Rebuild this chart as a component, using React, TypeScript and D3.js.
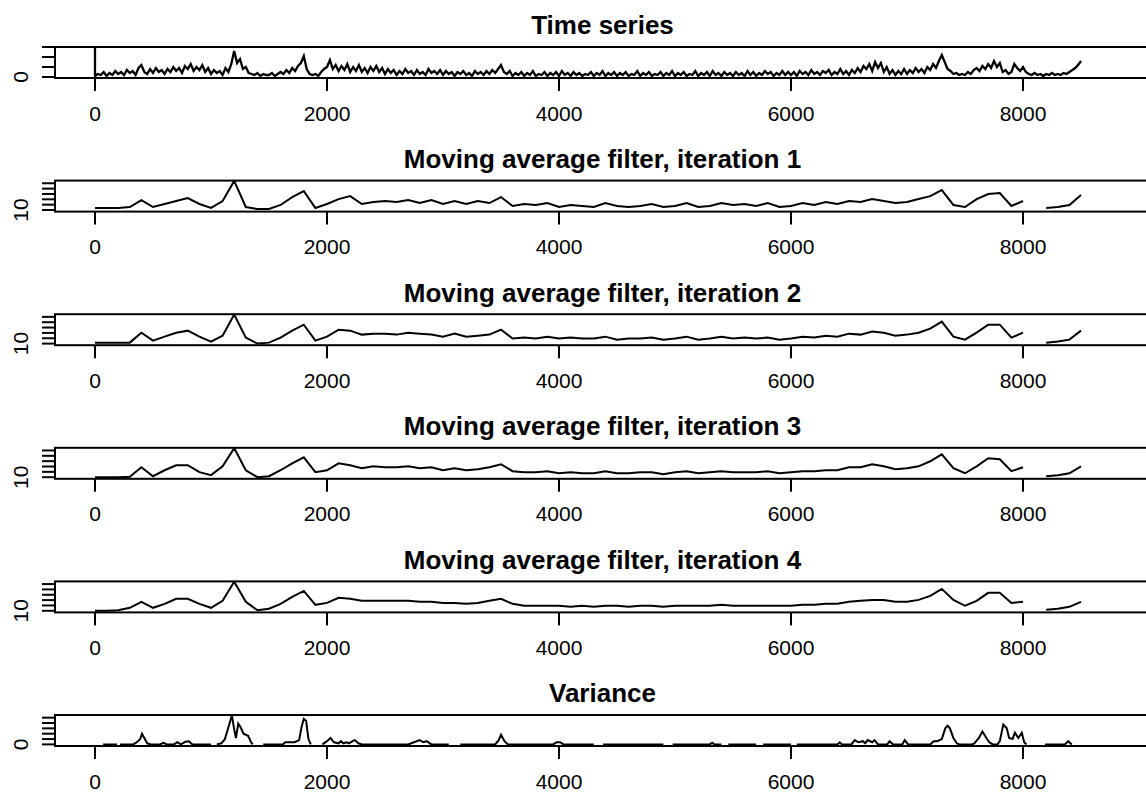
import React from "react";
import * as d3 from "d3";

const W = 1146;
const H = 798;

const panelTitles = [
  "Time series",
  "Moving average filter, iteration 1",
  "Moving average filter, iteration 2",
  "Moving average filter, iteration 3",
  "Moving average filter, iteration 4",
  "Variance",
];

const xTickValues = [0, 2000, 4000, 6000, 8000];
const tsTickValues = [0, 10, 20, 30];
const maTickValues = [10, 15, 20, 25, 30, 35];
const varTickValues = [0, 5, 10, 15, 20, 25];

// raw time series, sampled every 25 units (first point is the initial spike at 0)
const tsX = [0, ...d3.range(0, 8501, 25)];
const tsValues = [
  31,
  // 0-475
  1, 3, 2, 5, 1, 4, 2, 6, 3, 5, 2, 7, 4, 6, 2, 9, 12, 5, 3, 8,
  // 500-975
  4, 9, 5, 7, 3, 8, 5, 10, 6, 9, 4, 11, 8, 13, 6, 10, 7, 12, 5, 9,
  // 1000-1475
  3, 7, 4, 6, 2, 9, 5, 13, 26, 14, 18, 8, 10, 4, 3, 2, 4, 1, 3, 2,
  // 1500-1975
  2, 4, 1, 3, 5, 3, 7, 4, 9, 6, 11, 14, 21, 8, 3, 2, 3, 1, 5, 8,
  // 2000-2475
  10, 17, 8, 12, 6, 11, 7, 13, 5, 10, 6, 12, 5, 9, 4, 10, 6, 11, 5, 9,
  // 2500-2975
  3, 8, 4, 7, 2, 6, 3, 8, 4, 6, 2, 7, 3, 5, 2, 8, 4, 6, 3, 7,
  // 3000-3475
  2, 6, 3, 5, 1, 5, 3, 6, 2, 4, 1, 6, 3, 5, 2, 6, 3, 7, 4, 8,
  // 3500-3975
  12, 5, 3, 6, 1, 4, 2, 5, 1, 4, 2, 6, 1, 3, 2, 5, 1, 4, 2, 5,
  // 4000-4475
  1, 6, 2, 4, 1, 5, 2, 4, 1, 3, 2, 5, 1, 4, 2, 6, 1, 4, 2, 5,
  // 4500-4975
  1, 4, 2, 5, 1, 3, 2, 6, 1, 4, 2, 5, 1, 3, 2, 5, 1, 4, 2, 6,
  // 5000-5475
  1, 4, 2, 5, 1, 3, 2, 6, 1, 4, 2, 5, 1, 6, 2, 4, 1, 5, 2, 4,
  // 5500-5975
  1, 5, 2, 4, 1, 6, 2, 5, 1, 4, 2, 6, 3, 5, 1, 4, 2, 6, 2, 5,
  // 6000-6475
  2, 5, 1, 6, 3, 5, 2, 7, 3, 5, 2, 6, 4, 7, 2, 5, 3, 8, 3, 6,
  // 6500-6975
  2, 7, 4, 9, 5, 11, 8, 13, 6, 15, 9, 14, 5, 10, 3, 7, 2, 6, 3, 8,
  // 7000-7475
  3, 7, 4, 9, 5, 8, 4, 10, 7, 13, 9, 16, 22, 15, 8, 6, 3, 4, 2, 3,
  // 7500-7975
  2, 5, 3, 7, 9, 6, 11, 8, 13, 9, 16, 10, 14, 5, 7, 3, 5, 13, 9, 6,
  // 8000-8475
  10, 5, 3, 2, 4, 2, 3, 1, 3, 2, 4, 2, 3, 2, 4, 3, 5, 7, 9, 12,
  // 8500
  16,
];

// moving average filters, sampled every 100 units (null = gap)
const maX = d3.range(0, 8501, 100);
const ma1Values = [
  11.9, 11.9, 11.9, 12.8, 19.3, 12.8, 15.6, 18.4, 21.2, 15.6,
  11.9, 18.4, 37.2, 12.8, 10.9, 10.9, 14.7, 22.1, 27.7, 11.9,
  15.6, 20.2, 23.0, 15.6, 17.4, 18.4, 17.4, 19.3, 16.5, 19.3,
  15.6, 18.4, 15.6, 18.4, 16.5, 22.1, 13.7, 15.6, 14.7, 16.5,
  12.8, 14.7, 13.7, 12.8, 16.5, 13.7, 12.8, 13.7, 15.6, 12.8,
  13.7, 16.5, 12.8, 13.7, 16.5, 14.7, 15.6, 13.7, 16.5, 12.8,
  13.7, 16.5, 14.7, 17.4, 15.6, 18.4, 17.4, 20.2, 18.4, 16.5,
  17.4, 20.2, 23.0, 28.6, 14.7, 12.8, 20.2, 24.9, 25.8, 13.7,
  18.4, null, 11.9, 12.8, 14.7, 24.0,
];
const ma2Values = [
  10.9, 10.9, 10.9, 10.9, 20.2, 12.8, 16.5, 20.2, 22.1, 16.5,
  11.9, 17.4, 37.2, 15.6, 10.0, 10.9, 15.6, 22.1, 27.7, 12.8,
  16.5, 23.0, 22.1, 18.4, 19.3, 19.3, 18.4, 20.2, 19.3, 18.4,
  16.5, 19.3, 16.5, 17.4, 18.4, 23.0, 14.7, 15.6, 14.7, 16.5,
  14.7, 15.6, 14.7, 14.7, 16.5, 13.7, 14.7, 14.7, 15.6, 13.7,
  14.7, 16.5, 13.7, 14.7, 16.5, 14.7, 15.6, 14.7, 15.6, 13.7,
  14.7, 16.5, 15.6, 17.4, 16.5, 19.3, 18.4, 21.2, 20.2, 17.4,
  18.4, 20.2, 24.0, 30.5, 16.5, 13.7, 20.2, 27.7, 27.7, 15.6,
  20.2, null, 10.9, 11.9, 13.7, 22.1,
];
const ma3Values = [
  10.0, 10.0, 10.0, 10.5, 19.3, 10.9, 16.5, 21.2, 21.2, 14.7,
  11.9, 20.2, 37.2, 16.5, 10.0, 10.9, 16.5, 23.0, 28.6, 14.7,
  16.5, 23.0, 21.2, 18.4, 20.2, 19.3, 19.3, 20.2, 18.4, 19.3,
  16.5, 18.4, 16.5, 17.4, 19.3, 22.1, 15.6, 14.7, 14.7, 15.6,
  13.7, 14.7, 13.7, 13.7, 15.6, 13.7, 13.7, 14.7, 14.7, 12.8,
  14.7, 15.6, 13.7, 14.7, 15.6, 14.7, 14.7, 14.7, 15.6, 13.7,
  14.7, 15.6, 15.6, 16.5, 16.5, 19.3, 19.3, 22.1, 20.2, 17.4,
  18.4, 20.2, 24.9, 31.4, 18.4, 13.7, 20.2, 27.7, 26.8, 15.6,
  19.3, null, 10.9, 11.9, 13.7, 20.2,
];
const ma4Values = [
  10.0, 10.0, 10.5, 12.8, 18.4, 12.8, 16.5, 21.2, 21.2, 16.5,
  12.8, 19.3, 37.2, 18.4, 10.5, 11.9, 16.5, 23.0, 28.6, 15.6,
  17.4, 22.1, 21.2, 19.3, 19.3, 19.3, 19.3, 19.3, 18.4, 18.4,
  17.4, 17.4, 16.5, 17.4, 19.3, 21.2, 16.5, 14.7, 14.7, 14.7,
  14.7, 13.7, 14.7, 13.7, 14.7, 14.7, 13.7, 14.7, 14.7, 13.7,
  14.7, 14.7, 14.7, 14.7, 15.6, 14.7, 14.7, 14.7, 14.7, 14.7,
  14.7, 15.6, 15.6, 16.5, 16.5, 18.4, 19.3, 20.2, 20.2, 18.4,
  18.4, 20.2, 24.0, 30.5, 20.2, 14.7, 19.3, 26.8, 26.8, 17.4,
  18.4, null, 10.9, 11.9, 13.7, 18.4,
];

// variance as [position, value] (null = gap)
const varianceSeries: [number, number | null][] = [
  [70, 0], [190, 0], [200, null], [215, 0], [330, 0], [360, 2], [390, 5], [405, 10], [425, 6], [450, 1],
  [480, 0], [560, 0], [590, 1.5], [620, 0], [680, 0], [710, 2], [740, 0], [780, 2.5], [810, 3], [840, 0],
  [1000, 0], [1010, null], [1050, 0], [1090, 1], [1120, 5], [1150, 16], [1180, 27], [1200, 14], [1215, 6],
  [1235, 19.5], [1255, 16], [1280, 10], [1300, 9], [1320, 8], [1345, 2], [1360, 0], [1380, null],
  [1450, 0], [1620, 0], [1640, 2], [1720, 2], [1760, 4], [1780, 16], [1800, 24], [1820, 22], [1840, 5],
  [1860, 0], [1900, null], [1960, 0], [2000, 3], [2030, 6], [2060, 2], [2100, 1], [2120, 3], [2140, 1],
  [2170, 2], [2190, 1], [2220, 3], [2240, 4], [2270, 1], [2300, 0], [2700, 0], [2750, 2], [2800, 4],
  [2830, 2], [2860, 3], [2900, 0], [3050, 0], [3100, null], [3150, 0], [3450, 0], [3480, 4], [3500, 9],
  [3530, 3], [3560, 0], [3950, 0], [3980, 2], [4010, 2], [4040, 0], [4300, 0], [4320, null], [4380, 0],
  [4900, 0], [4920, null], [4980, 0], [5300, 0], [5320, 1.5], [5340, 0], [5400, 0], [5420, null], [5460, 0],
  [5700, 0], [5720, null], [5760, 0], [6000, 0], [6020, null], [6050, 0], [6400, 0], [6420, 2], [6440, 0],
  [6520, 0], [6550, 4], [6580, 2], [6620, 3], [6640, 1], [6660, 4], [6700, 2], [6720, 4], [6750, 0],
  [6830, 0], [6850, 3], [6880, 0], [6960, 0], [6980, 4], [7010, 0], [7200, 0], [7230, 3], [7260, 3],
  [7300, 5], [7330, 15], [7350, 17.5], [7370, 15], [7400, 6], [7430, 1], [7450, 0], [7560, 0], [7580, 1],
  [7620, 6], [7650, 12], [7690, 5], [7710, 2], [7740, 0], [7780, 0], [7800, 3], [7830, 18.5], [7860, 15],
  [7880, 6], [7910, 5], [7930, 11], [7960, 6], [7990, 11], [8010, 2], [8030, 0], [8100, null],
  [8190, 0], [8360, 0], [8390, 3], [8420, 0],
];

type Pt = [number, number | null];

const zipSeries = (xs: number[], ys: (number | null)[]): Pt[] => xs.map((v, i) => [v, ys[i]]);

export default function App() {
  const boxLeft = 55;
  const boxRight = 1150;
  const boxH = 31;
  const pitch = 133.6;
  const firstTop = 47;
  const tickLen = 13;
  const font = "'Liberation Sans', Arial, Helvetica, sans-serif";
  const titleSize = 26;
  const labelSize = 21;
  const labelOffset = 35;

  const x = d3.scaleLinear().domain([0, 8000]).range([95, 1023]);

  const panels = [
    { title: panelTitles[0], data: zipSeries(tsX, tsValues), ticks: tsTickValues, domain: [-1, 30], lw: 2.3 },
    { title: panelTitles[1], data: zipSeries(maX, ma1Values), ticks: maTickValues, domain: [8.5, 37.5], lw: 2 },
    { title: panelTitles[2], data: zipSeries(maX, ma2Values), ticks: maTickValues, domain: [8.5, 37.5], lw: 2 },
    { title: panelTitles[3], data: zipSeries(maX, ma3Values), ticks: maTickValues, domain: [8.5, 37.5], lw: 2 },
    { title: panelTitles[4], data: zipSeries(maX, ma4Values), ticks: maTickValues, domain: [8.5, 37.5], lw: 2 },
    { title: panelTitles[5], data: varianceSeries, ticks: varTickValues, domain: [-1.5, 27.5], lw: 2 },
  ];

  return (
    <svg
      width={W}
      height={H}
      style={{ position: "absolute", left: 0, top: 0, background: "#fff" }}
      fontFamily={font}
    >
      <rect x={0} y={0} width={W} height={H} fill="#fff" />
      {panels.map((p, i) => {
        const top = firstTop + pitch * i;
        const bottom = top + boxH;
        const y = d3.scaleLinear().domain(p.domain).range([bottom, top]);
        const line = d3
          .line<Pt>()
          .defined((d) => d[1] !== null)
          .x((d) => x(d[0]))
          .y((d) => y(d[1] as number));
        const clipId = `clip-${i}`;
        return (
          <g key={i}>
            <defs>
              <clipPath id={clipId}>
                <rect x={boxLeft} y={top} width={boxRight - boxLeft} height={boxH} />
              </clipPath>
            </defs>
            <text
              x={(boxLeft + boxRight) / 2}
              y={top - 22 + titleSize * 0.358}
              textAnchor="middle"
              fontSize={titleSize}
              fontWeight="bold"
              fill="#000"
            >
              {p.title}
            </text>
            <path
              d={line(p.data) || ""}
              fill="none"
              stroke="#000"
              strokeWidth={p.lw}
              strokeLinejoin="miter"
              clipPath={`url(#${clipId})`}
            />
            <rect
              x={boxLeft}
              y={top}
              width={boxRight - boxLeft}
              height={boxH}
              fill="none"
              stroke="#000"
              strokeWidth={2}
            />
            {p.ticks.map((t) => (
              <line
                key={`yt${t}`}
                x1={boxLeft}
                x2={boxLeft - tickLen}
                y1={y(t)}
                y2={y(t)}
                stroke="#000"
                strokeWidth={2}
              />
            ))}
            <text
              x={20 + labelSize * 0.358}
              y={y(p.ticks[0])}
              transform={`rotate(-90, ${20 + labelSize * 0.358}, ${y(p.ticks[0])})`}
              textAnchor="middle"
              fontSize={labelSize}
              fill="#000"
            >
              {String(p.ticks[0])}
            </text>
            {xTickValues.map((t) => (
              <g key={`xt${t}`}>
                <line
                  x1={x(t)}
                  x2={x(t)}
                  y1={bottom}
                  y2={bottom + tickLen}
                  stroke="#000"
                  strokeWidth={2}
                />
                <text
                  x={x(t)}
                  y={bottom + labelOffset + labelSize * 0.358}
                  textAnchor="middle"
                  fontSize={labelSize}
                  fill="#000"
                >
                  {String(t)}
                </text>
              </g>
            ))}
          </g>
        );
      })}
    </svg>
  );
}
